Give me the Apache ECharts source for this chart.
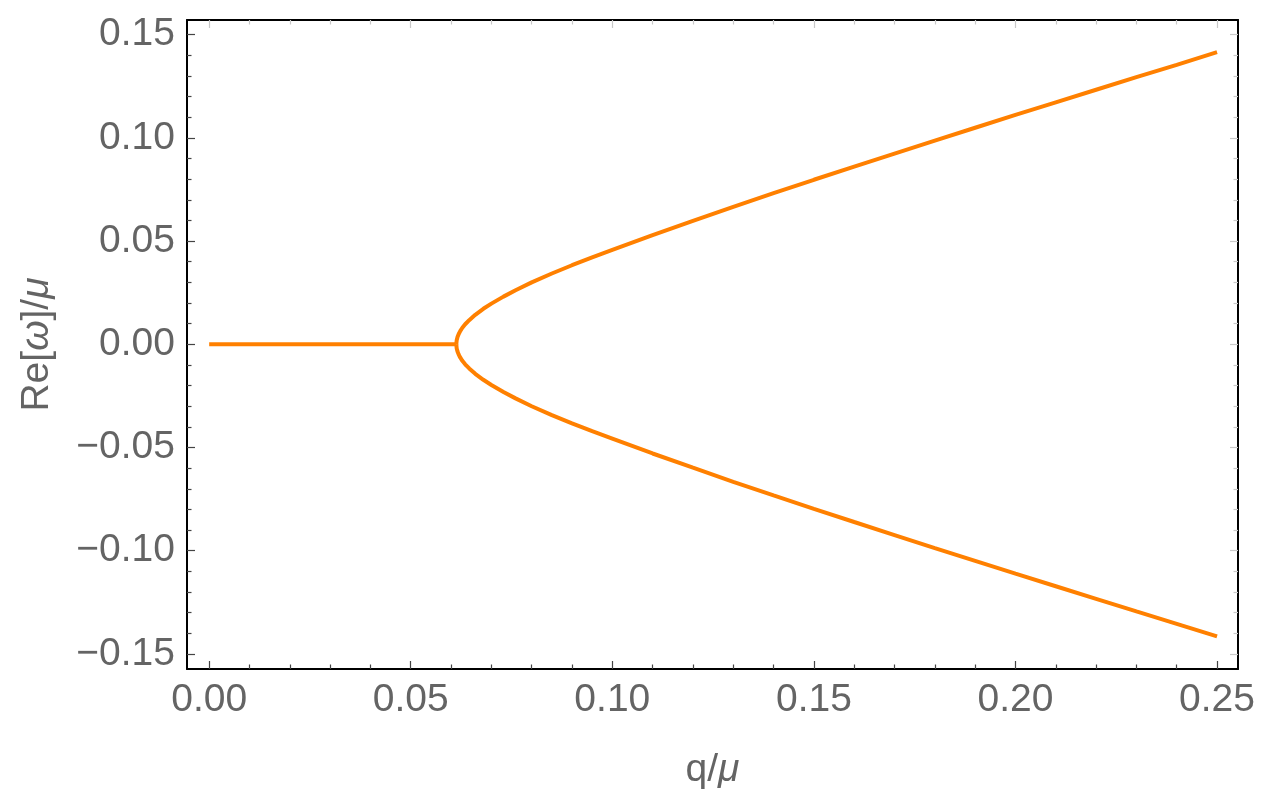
<!DOCTYPE html>
<html>
<head>
<meta charset="utf-8">
<script src="https://cdn.jsdelivr.net/npm/echarts@6/dist/echarts.min.js"></script>
<style>html,body{margin:0;padding:0;background:#fff;}#c{width:1271px;height:803px;}</style>
</head>
<body>
<div id="c"></div>
<script>
// ---- data ----
const flatQ = [0.0, 0.0613];
const flatW = [0.0, 0.0];
const branchQ = [0.0613, 0.0614, 0.0616, 0.0619, 0.0623, 0.0628, 0.0635, 0.0645, 0.066, 0.068, 0.070, 0.073, 0.076, 0.080, 0.085, 0.090, 0.095, 0.10, 0.11, 0.12, 0.13, 0.14, 0.15, 0.16, 0.17, 0.18, 0.19, 0.20, 0.21, 0.22, 0.23, 0.24, 0.25];
const upperW = [0.0, 0.0020, 0.0035, 0.0050, 0.0065, 0.0080, 0.0097, 0.0117, 0.0143, 0.0172, 0.0197, 0.0231, 0.0262, 0.0300, 0.0343, 0.0383, 0.0421, 0.0457, 0.0529, 0.0598, 0.0666, 0.0732, 0.0797, 0.0861, 0.0924, 0.0987, 0.1049, 0.1111, 0.1172, 0.1233, 0.1294, 0.1354, 0.1415];
const lowerW = [0.0, -0.0020, -0.0035, -0.0050, -0.0065, -0.0080, -0.0097, -0.0117, -0.0143, -0.0172, -0.0197, -0.0231, -0.0262, -0.0300, -0.0343, -0.0383, -0.0421, -0.0457, -0.0529, -0.0598, -0.0666, -0.0732, -0.0797, -0.0861, -0.0924, -0.0987, -0.1049, -0.1111, -0.1172, -0.1233, -0.1294, -0.1354, -0.1415];
const xMajor = [0.00, 0.05, 0.10, 0.15, 0.20, 0.25];
const xMinor = [0.01, 0.02, 0.03, 0.04, 0.06, 0.07, 0.08, 0.09, 0.11, 0.12, 0.13, 0.14, 0.16, 0.17, 0.18, 0.19, 0.21, 0.22, 0.23, 0.24];
const yMajor = [-0.15, -0.10, -0.05, 0.00, 0.05, 0.10, 0.15];
const yMinor = [-0.14, -0.13, -0.12, -0.11, -0.09, -0.08, -0.07, -0.06, -0.04, -0.03, -0.02, -0.01, 0.01, 0.02, 0.03, 0.04, 0.06, 0.07, 0.08, 0.09, 0.11, 0.12, 0.13, 0.14];

const X_MIN = -0.0055, X_MAX = 0.2552, Y_MIN = -0.1573, Y_MAX = 0.1571;
const FONT = 'Liberation Sans, Arial, Helvetica, sans-serif';
const LABEL = '#646464';
const FS = 39;
const fmt = v => (v < 0 ? '\u2212' : '') + Math.abs(v).toFixed(2);

function axis(kind, pos, ticks, len, color, showLine, labels, extra) {
  const a = {
    type: 'value', position: pos, min: kind === 'x' ? X_MIN : Y_MIN, max: kind === 'x' ? X_MAX : Y_MAX,
    axisLine: { show: showLine, onZero: false, lineStyle: { color: '#000', width: 2 } },
    axisTick: { show: true, inside: true, length: len, customValues: ticks, lineStyle: { color: color, width: 1.2 } },
    axisLabel: labels ? { show: true, customValues: ticks, formatter: fmt, fontSize: FS, color: LABEL, fontFamily: FONT, margin: 12 } : { show: false },
    splitLine: { show: false }
  };
  return Object.assign(a, extra || {});
}

const nameStyle = {
  fontSize: FS, color: LABEL, fontFamily: FONT,
  rich: {
    n: { fontSize: FS, color: LABEL, fontFamily: FONT },
    i: { fontSize: FS, color: LABEL, fontFamily: FONT, fontStyle: 'italic' }
  }
};

const chart = echarts.init(document.getElementById('c'), null, { renderer: 'canvas' });
const toPairs = (xs, ys) => xs.map((x, i) => [x, ys[i]]);
chart.setOption({
  animation: false,
  backgroundColor: '#fff',
  grid: { left: 187, right: 33, top: 20, bottom: 134, containLabel: false },
  xAxis: [
    axis('x', 'bottom', xMajor, 8, '#444', true, true, {
      name: '{n|q/}{i|\u03bc}', nameLocation: 'middle', nameGap: 82, nameTextStyle: nameStyle
    }),
    axis('x', 'bottom', xMinor, 4.5, '#444', false, false),
    axis('x', 'top', xMajor, 8, '#c8c8c8', true, false),
    axis('x', 'top', xMinor, 4.5, '#c8c8c8', false, false)
  ],
  yAxis: [
    axis('y', 'left', yMajor, 8, '#444', true, true, {
      name: '{n|Re[}{i|\u03c9}{n|]/}{i|\u03bc}', nameLocation: 'middle', nameGap: 130, nameTextStyle: nameStyle
    }),
    axis('y', 'left', yMinor, 4.5, '#444', false, false),
    axis('y', 'right', yMajor, 8, '#c8c8c8', true, false),
    axis('y', 'right', yMinor, 4.5, '#c8c8c8', false, false)
  ],
  series: [
    { type: 'line', xAxisIndex: 0, yAxisIndex: 0, data: toPairs(flatQ, flatW), showSymbol: false, lineStyle: { color: '#FF8000', width: 4 } },
    { type: 'line', xAxisIndex: 0, yAxisIndex: 0, data: toPairs(branchQ, upperW), showSymbol: false, lineStyle: { color: '#FF8000', width: 4 } },
    { type: 'line', xAxisIndex: 0, yAxisIndex: 0, data: toPairs(branchQ, lowerW), showSymbol: false, lineStyle: { color: '#FF8000', width: 4 } }
  ]
});
</script>
</body>
</html>
